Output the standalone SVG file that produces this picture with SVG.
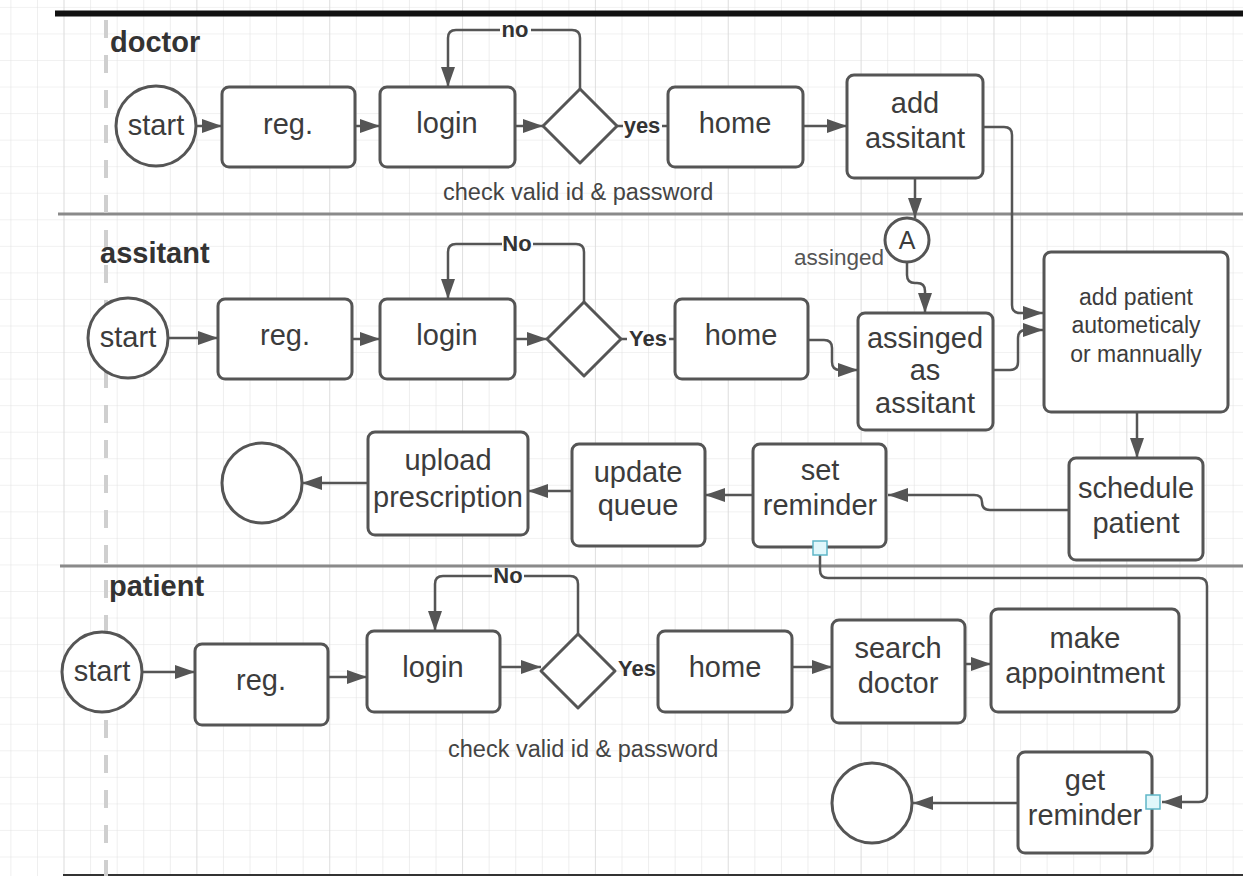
<svg xmlns="http://www.w3.org/2000/svg" width="1243" height="876" viewBox="0 0 1243 876">
<style>
.node{fill:#fff;stroke:#555;stroke-width:3}
.t{font-family:"Liberation Sans",Arial,sans-serif;font-size:29px;fill:#3c3c3c;text-anchor:middle}
.ts{font-size:23px}
.lane{font-family:"Liberation Sans",Arial,sans-serif;font-size:29px;font-weight:bold;fill:#333}
.lbl{font-family:"Liberation Sans",Arial,sans-serif;font-size:22px;font-weight:bold;fill:#333;text-anchor:middle}
.note{font-family:"Liberation Sans",Arial,sans-serif;font-size:23.5px;fill:#444}
.c{fill:none;stroke:#555;stroke-width:2.5}
.a{marker-end:url(#arr)}
.pt{fill:#e0f7fb;stroke:#5fb6c8;stroke-width:1.5}
</style>
<defs>
<pattern id="g" patternUnits="userSpaceOnUse" x="10.4" y="6.9" width="26.57" height="26.55">
<path d="M0,0 V26.55 M0,0 H26.57" fill="none" stroke="#e3e3e3" stroke-width="1.2"/>
</pattern>
<pattern id="gm" patternUnits="userSpaceOnUse" x="63.5" y="0" width="132.85" height="876">
<path d="M0,0 V876" fill="none" stroke="#d6d6d6" stroke-width="1.2"/>
</pattern>
<marker id="arr" viewBox="0 0 20 14" refX="20" refY="7" markerWidth="20" markerHeight="14" markerUnits="userSpaceOnUse" orient="auto">
<path d="M0,0 L20,7 L0,14 Z" fill="#555"/>
</marker>
</defs>
<rect width="1243" height="876" fill="#fff"/>
<rect width="1243" height="876" fill="url(#g)"/>
<rect width="1243" height="876" fill="url(#gm)"/>
<g id="frame">
<line x1="55" y1="13.5" x2="1243" y2="13.5" stroke="#111" stroke-width="6"/>
<line x1="58" y1="214" x2="1243" y2="214" stroke="#8a8a8a" stroke-width="3"/>
<line x1="60" y1="566" x2="1243" y2="566" stroke="#8a8a8a" stroke-width="3"/>
<line x1="63" y1="875" x2="1243" y2="875" stroke="#333" stroke-width="2"/>
<line x1="106" y1="20" x2="106" y2="876" stroke="#cfcfcf" stroke-width="4" stroke-dasharray="18 17"/>
<text class="lane" x="110" y="52">doctor</text>
<text class="lane" x="100" y="263">assitant</text>
<text class="lane" x="109" y="596">patient</text>
</g>
<g id="connectors">
<path class="c a" d="M197,126 H222"/>
<path class="c a" d="M355,126 H380"/>
<path class="c a" d="M515,126 H543"/>
<path class="c" d="M617,126 H623 M662,126 H668"/>
<path class="c" d="M580,89 V38 Q580,30 572,30 H531"/>
<path class="c a" d="M500,30 H456 Q448,30 448,38 V87"/>
<text class="lbl" x="515" y="37">no</text>
<text class="lbl" x="642" y="133">yes</text>
<path class="c a" d="M803,126 H847"/>
<path class="c a" d="M915,178 V218"/>
<path class="c a" d="M907,262 V275 Q907,283 915,283 H917 Q925,283 925,291 V313"/>
<path class="c a" d="M983,127 H1004 Q1012,127 1012,135 V305 Q1012,313 1020,313 H1043"/>
<path class="c a" d="M168,338 H218"/>
<path class="c a" d="M352,339 H380"/>
<path class="c a" d="M515,339 H547"/>
<path class="c" d="M621,339 H627 M669,339 H675"/>
<path class="c" d="M584,302 V252 Q584,244 576,244 H533"/>
<path class="c a" d="M502,244 H456 Q448,244 448,252 V299"/>
<text class="lbl" x="517" y="251">No</text>
<text class="lbl" x="648" y="346">Yes</text>
<path class="c a" d="M808,340 H824 Q832,340 832,348 V362 Q832,370 840,370 H858"/>
<path class="c a" d="M993,370 H1010 Q1018,370 1018,362 V338 Q1018,330 1026,330 H1043"/>
<path class="c a" d="M1137,412 V458"/>
<path class="c a" d="M1069,510 H990 Q982,510 982,502 Q982,495 974,495 H888"/>
<path class="c a" d="M753,495 H705"/>
<path class="c a" d="M572,491 H528"/>
<path class="c a" d="M368,483 H302"/>
<path class="c a" d="M820,555 V570 Q820,578 828,578 H1199 Q1207,578 1207,586 V794 Q1207,802 1199,802 H1162"/>
<path class="c a" d="M142,672 H195"/>
<path class="c a" d="M328,677 H367"/>
<path class="c a" d="M500,667 H541"/>
<path class="c" d="M578,634 V584 Q578,576 570,576 H524"/>
<path class="c a" d="M492,576 H443 Q435,576 435,584 V631"/>
<text class="lbl" x="508" y="583">No</text>
<text class="lbl" x="637" y="676">Yes</text>
<path class="c a" d="M792,667 H832"/>
<path class="c a" d="M965,664 H991"/>
<path class="c a" d="M1018,803 H913"/>
</g>
<g id="d-start"><circle class="node" cx="156" cy="126" r="40"/><text class="t" x="156" y="135">start</text></g>
<g id="d-reg"><rect class="node" x="222" y="87" width="133" height="80" rx="7"/><text class="t" x="288" y="134">reg.</text></g>
<g id="d-login"><rect class="node" x="380" y="87" width="135" height="80" rx="7"/><text class="t" x="447" y="133">login</text></g>
<g id="d-check"><polygon class="node" stroke-linejoin="round" points="580,89 617,126 580,163 543,126"/></g>
<g id="d-home"><rect class="node" x="668" y="87" width="135" height="80" rx="7"/><text class="t" x="735" y="133">home</text></g>
<g id="d-add"><rect class="node" x="847" y="75" width="136" height="103" rx="7"/><text class="t" x="915" y="113">add</text><text class="t" x="915" y="148">assitant</text></g>
<g id="d-note"><text class="note" x="443" y="200">check valid id &amp; password</text></g>
<g id="a-conn"><circle class="node" cx="907" cy="240" r="22" stroke-width="2.5"/><text class="t" x="907" y="249" style="font-size:25px">A</text><text class="note" x="884" y="265" style="text-anchor:end;font-size:22.5px;fill:#555">assinged</text></g>
<g id="a-start"><circle class="node" cx="128" cy="338" r="40"/><text class="t" x="128" y="347">start</text></g>
<g id="a-reg"><rect class="node" x="218" y="299" width="134" height="80" rx="7"/><text class="t" x="285" y="345">reg.</text></g>
<g id="a-login"><rect class="node" x="380" y="299" width="135" height="80" rx="7"/><text class="t" x="447" y="345">login</text></g>
<g id="a-check"><polygon class="node" stroke-linejoin="round" points="584,302 621,339 584,376 547,339"/></g>
<g id="a-home"><rect class="node" x="675" y="299" width="133" height="80" rx="7"/><text class="t" x="741" y="345">home</text></g>
<g id="a-assigned"><rect class="node" x="858" y="313" width="135" height="117" rx="7"/><text class="t" x="925" y="348">assinged</text><text class="t" x="925" y="380">as</text><text class="t" x="925" y="413">assitant</text></g>
<g id="a-addpatient"><rect class="node" x="1044" y="252" width="184" height="160" rx="7"/><text class="t ts" x="1136" y="305">add patient</text><text class="t ts" x="1136" y="333">autometicaly</text><text class="t ts" x="1136" y="362">or mannually</text></g>
<g id="a-schedule"><rect class="node" x="1069" y="458" width="134" height="102" rx="7"/><text class="t" x="1136" y="498">schedule</text><text class="t" x="1136" y="533">patient</text></g>
<g id="a-setrem"><rect class="node" x="753" y="444" width="133" height="103" rx="7"/><text class="t" x="820" y="480">set</text><text class="t" x="820" y="515">reminder</text><rect class="pt" x="813" y="541" width="14" height="14"/></g>
<g id="a-queue"><rect class="node" x="572" y="444" width="133" height="102" rx="7"/><text class="t" x="638" y="482">update</text><text class="t" x="638" y="515">queue</text></g>
<g id="a-upload"><rect class="node" x="368" y="432" width="160" height="103" rx="7"/><text class="t" x="448" y="470">upload</text><text class="t" x="448" y="507">prescription</text></g>
<g id="a-end"><circle class="node" cx="262" cy="483" r="40"/></g>
<g id="p-start"><circle class="node" cx="102" cy="672" r="40"/><text class="t" x="102" y="681">start</text></g>
<g id="p-reg"><rect class="node" x="195" y="644" width="133" height="81" rx="7"/><text class="t" x="261" y="690">reg.</text></g>
<g id="p-login"><rect class="node" x="367" y="631" width="133" height="81" rx="7"/><text class="t" x="433" y="677">login</text></g>
<g id="p-check"><polygon class="node" stroke-linejoin="round" points="578,634 615,671 578,708 541,671"/></g>
<g id="p-home"><rect class="node" x="658" y="631" width="134" height="81" rx="7"/><text class="t" x="725" y="677">home</text></g>
<g id="p-search"><rect class="node" x="832" y="620" width="133" height="103" rx="7"/><text class="t" x="898" y="658">search</text><text class="t" x="898" y="693">doctor</text></g>
<g id="p-make"><rect class="node" x="991" y="609" width="188" height="103" rx="7"/><text class="t" x="1085" y="648">make</text><text class="t" x="1085" y="683">appointment</text></g>
<g id="p-note"><text class="note" x="448" y="757">check valid id &amp; password</text></g>
<g id="p-getrem"><rect class="node" x="1018" y="752" width="134" height="101" rx="7"/><text class="t" x="1085" y="790">get</text><text class="t" x="1085" y="825">reminder</text><rect class="pt" x="1146" y="795" width="14" height="14"/></g>
<g id="p-end"><circle class="node" cx="872" cy="803" r="40"/></g>
</svg>
